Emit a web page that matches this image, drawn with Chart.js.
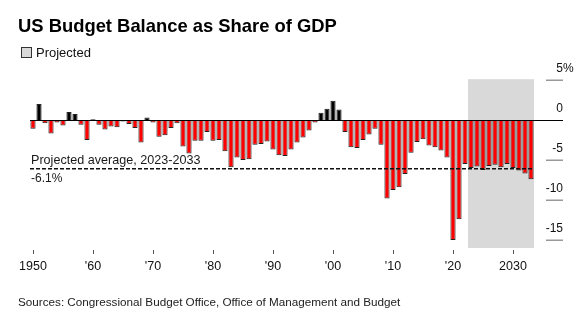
<!DOCTYPE html>
<html>
<head>
<meta charset="utf-8">
<script src="https://cdn.jsdelivr.net/npm/chart.js@4"></script>
<style>
  html, body { margin: 0; padding: 0; background: #fff; }
  body { width: 582px; height: 321px; position: relative; overflow: hidden; font-family: "Liberation Sans", Arial, sans-serif; color: #111; }
  #wrap { position: absolute; left: 0; top: 0; width: 582px; height: 321px; }
  .t { position: absolute; white-space: nowrap; line-height: 1; }
  #title { left: 18px; top: 17.3px; font-size: 18.4px; font-weight: bold; color: #000; }
  #legbox { position: absolute; left: 20.5px; top: 46.5px; width: 9px; height: 9px; background: #d9d9d9; border: 1px solid #333; }
  #legtxt { left: 36px; top: 45.5px; font-size: 13px; }
  #avg1 { left: 31px; top: 153.7px; font-size: 12.6px; color: #1a1a1a; }
  #avg2 { left: 31px; top: 171.5px; font-size: 12px; color: #1a1a1a; }
  #src { left: 18px; top: 295.8px; font-size: 11.7px; color: #222; }
</style>
</head>
<body>
<div id="wrap"><canvas id="c" width="582" height="321"></canvas></div>
<div class="t" id="title">US Budget Balance as Share of GDP</div>
<div id="legbox"></div>
<div class="t" id="legtxt">Projected</div>
<div class="t" id="avg1">Projected average, 2023-2033</div>
<div class="t" id="avg2">-6.1%</div>
<div class="t" id="src">Sources: Congressional Budget Office, Office of Management and Budget</div>
<script>
const years = [
  1950,1951,1952,1953,1954,1955,1956,1957,1958,1959,
  1960,1961,1962,1963,1964,1965,1966,1967,1968,1969,
  1970,1971,1972,1973,1974,1975,1976,1977,1978,1979,
  1980,1981,1982,1983,1984,1985,1986,1987,1988,1989,
  1990,1991,1992,1993,1994,1995,1996,1997,1998,1999,
  2000,2001,2002,2003,2004,2005,2006,2007,2008,2009,
  2010,2011,2012,2013,2014,2015,2016,2017,2018,2019,
  2020,2021,2022,2023,2024,2025,2026,2027,2028,2029,
  2030,2031,2032,2033
];
const balance = [
  -1.1, 2.0, -0.4, -1.7, -0.3, -0.7, 1.0, 0.75, -0.6, -2.5,
  0.1, -0.6, -1.2, -0.8, -0.9, -0.2, -0.5, -1.0, -2.8, 0.3,
  -0.3, -2.1, -1.9, -1.0, -0.4, -3.3, -4.2, -2.6, -2.6, -1.5,
  -2.6, -2.5, -3.9, -5.9, -4.7, -5.0, -4.9, -3.1, -3.0, -2.7,
  -3.7, -4.4, -4.5, -3.7, -2.8, -2.2, -1.3, -0.3, 0.9, 1.4,
  2.4, 1.3, -1.5, -3.4, -3.5, -2.5, -1.8, -1.1, -3.1, -9.8,
  -8.75, -8.4, -6.75, -4.1, -2.75, -2.4, -3.2, -3.4, -3.8, -4.7,
  -15.0, -12.4, -5.5, -6.0, -5.8, -6.25, -5.75, -5.6, -5.9, -5.5,
  -6.0, -6.3, -6.7, -7.4
];
const xTickYears = [1950, 1960, 1970, 1980, 1990, 2000, 2010, 2020, 2030];
const xTickLabels = ["1950", "'60", "'70", "'80", "'90", "'00", "'10", "'20", "2030"];
const yTickValues = [5, 0, -5, -10, -15];
const yTickLabels = ["5%", "0", "-5", "-10", "-15"];
const projectedFirst = 2023;
const projectedLast = 2033;
const projectedAverage = -6.1;

const FONT = '"Liberation Sans", Arial, sans-serif';

const overlay = {
  id: 'overlay',
  beforeDatasetsDraw(chart) {
    const { ctx, scales: { x, y } } = chart;
    const i0 = years.indexOf(projectedFirst), i1 = years.indexOf(projectedLast);
    const half = (x.getPixelForValue(1) - x.getPixelForValue(0)) / 2;
    const left = x.getPixelForValue(i0) - half;
    const right = x.getPixelForValue(i1) + half;
    const top = y.getPixelForValue(5.1);
    const bottom = y.getPixelForValue(-16);
    ctx.save();
    ctx.fillStyle = '#d9d9d9';
    ctx.fillRect(left, top, right - left, bottom - top);
    ctx.restore();
  },
  afterDatasetsDraw(chart) {
    const { ctx, chartArea, scales: { x, y } } = chart;
    ctx.save();
    // x tick marks at labelled years
    ctx.strokeStyle = '#555';
    ctx.lineWidth = 1;
    xTickYears.forEach(yr => {
      const px = Math.round(x.getPixelForValue(years.indexOf(yr))) + 0.5;
      ctx.beginPath(); ctx.moveTo(px, chartArea.bottom); ctx.lineTo(px, chartArea.bottom + 4); ctx.stroke();
    });
    // y tick marks and labels (numbers right-aligned, % hanging)
    const markL = chartArea.right + 12, markR = chartArea.right + 29;
    ctx.font = '12px ' + FONT;
    ctx.textBaseline = 'middle';
    yTickValues.forEach((v, k) => {
      const py = y.getPixelForValue(v);
      if (v !== 0) {
        ctx.strokeStyle = '#999';
        ctx.lineWidth = 1.5;
        ctx.beginPath(); ctx.moveTo(markL, Math.round(py) + 0.25); ctx.lineTo(markR, Math.round(py) + 0.25); ctx.stroke();
      }
      const lab = yTickLabels[k];
      const num = lab.replace('%', '');
      const suf = lab.slice(num.length);
      ctx.fillStyle = '#111';
      ctx.textAlign = 'right';
      ctx.fillText(num, markR, py - 11.5);
      if (suf) { ctx.textAlign = 'left'; ctx.fillText(suf, markR, py - 11.5); }
    });
    // zero line
    const zy = Math.round(y.getPixelForValue(0)) + 0.5;
    ctx.strokeStyle = '#000';
    ctx.lineWidth = 1;
    ctx.beginPath(); ctx.moveTo(chartArea.left, zy); ctx.lineTo(markR, zy); ctx.stroke();
    // projected average dashed line
    const ay = y.getPixelForValue(projectedAverage);
    ctx.strokeStyle = '#111';
    ctx.lineWidth = 1.5;
    ctx.setLineDash([4, 2]);
    ctx.beginPath(); ctx.moveTo(chartArea.left, ay); ctx.lineTo(chartArea.right, ay); ctx.stroke();
    ctx.restore();
  }
};

new Chart(document.getElementById('c'), {
  type: 'bar',
  data: {
    labels: years.map(String),
    datasets: [{
      data: balance,
      backgroundColor: ctx => (ctx.raw >= 0 ? '#000000' : '#ff0000'),
      borderColor: '#222',
      borderWidth: 1,
      barPercentage: 0.86,
      categoryPercentage: 1
    }]
  },
  options: {
    responsive: false,
    animation: false,
    events: [],
    layout: { padding: { left: 30, top: 80, right: 0, bottom: 41 } },
    plugins: { legend: { display: false }, tooltip: { enabled: false } },
    scales: {
      x: {
        grid: { display: false, drawTicks: true, tickLength: 4 },
        border: { display: false },
        ticks: {
          autoSkip: false, maxRotation: 0, minRotation: 0, padding: 5,
          color: '#111', font: { family: FONT, size: 12.5 },
          callback: (val, idx) => {
            const k = xTickYears.indexOf(years[idx]);
            return k >= 0 ? xTickLabels[k] : null;
          }
        },
        afterFit: s => { s.height = 30; }
      },
      y: {
        position: 'right',
        min: -16.25,
        max: 5,
        grid: { display: false, drawTicks: false },
        border: { display: false },
        afterBuildTicks: s => { s.ticks = yTickValues.map(v => ({ value: v })); },
        ticks: { display: false },
        afterFit: s => { s.width = 48; }
      }
    }
  },
  plugins: [overlay]
});
</script>
</body>
</html>
